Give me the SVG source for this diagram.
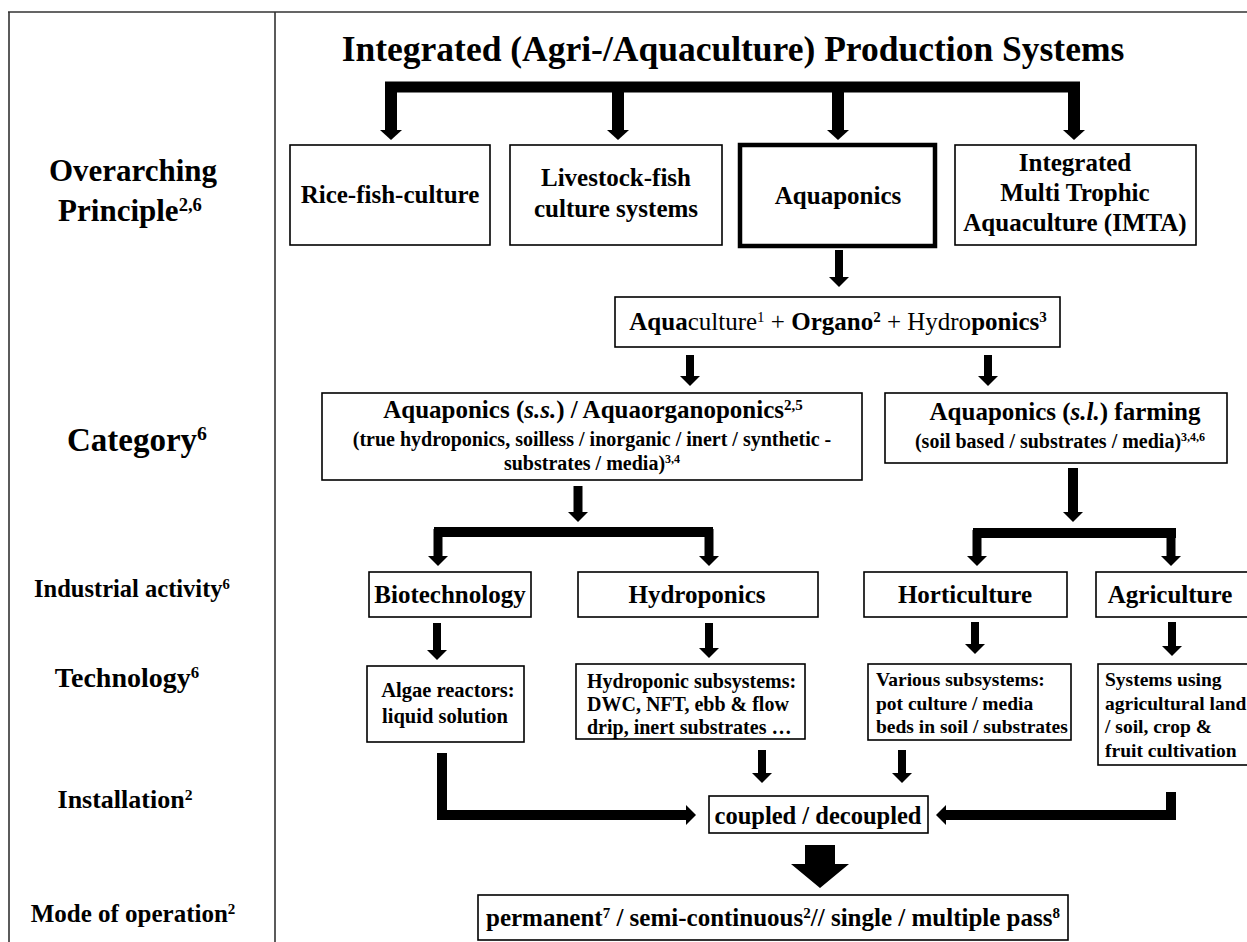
<svg xmlns="http://www.w3.org/2000/svg" width="1247" height="942" viewBox="0 0 1247 942">
<defs>
<style>
text{font-family:"Liberation Serif","Times New Roman",serif;fill:#000}
.b{font-weight:bold}
.m{text-anchor:middle}
.box{fill:#fff;stroke:#000;stroke-width:1.6}
.thick{fill:#fff;stroke:#000;stroke-width:4.5}
.frame{fill:none;stroke:#333;stroke-width:1.6}
.c{fill:none;stroke:#000;stroke-linecap:butt;stroke-linejoin:miter}
.s{font-size:60%}
</style>
<marker id="a20" markerUnits="userSpaceOnUse" markerWidth="10" markerHeight="20" viewBox="0 0 10 20" refX="0" refY="10" orient="auto"><path d="M0,0 L10,10 L0,20 Z" fill="#000"/></marker>
<marker id="a22" markerUnits="userSpaceOnUse" markerWidth="10" markerHeight="22" viewBox="0 0 10 22" refX="0" refY="11" orient="auto"><path d="M0,0 L10,11 L0,22 Z" fill="#000"/></marker>
</defs>
<rect width="1247" height="942" fill="#fff"/>
<g id="frame">
<path class="frame" d="M8,12 H1247 M9,12 V942 M275,12 V942"/>
</g>
<g id="row-labels" class="b">
<text x="133" y="181" class="m" font-size="31">Overarching</text>
<text x="130" y="221" class="m" font-size="31">Principle<tspan class="s" baseline-shift="super">2,6</tspan></text>
<text x="137" y="451" class="m" font-size="33">Category<tspan class="s" baseline-shift="super">6</tspan></text>
<text x="132" y="597" class="m" font-size="24.5">Industrial activity<tspan class="s" baseline-shift="super">6</tspan></text>
<text x="127" y="687" class="m" font-size="28">Technology<tspan class="s" baseline-shift="super">6</tspan></text>
<text x="125" y="808" class="m" font-size="26">Installation<tspan class="s" baseline-shift="super">2</tspan></text>
<text x="133" y="922" class="m" font-size="25">Mode of operation<tspan class="s" baseline-shift="super">2</tspan></text>
</g>
<g id="title">
<text x="733" y="61" class="m b" font-size="35.5">Integrated (Agri-/Aquaculture) Production Systems</text>
</g>
<g id="connectors">
<path class="c" stroke-width="11" d="M385,87 H1080"/>
<path class="c" stroke-width="12" d="M391,84 V130" marker-end="url(#a22)"/>
<path class="c" stroke-width="12" d="M618,84 V130" marker-end="url(#a22)"/>
<path class="c" stroke-width="12" d="M838,84 V130" marker-end="url(#a22)"/>
<path class="c" stroke-width="12" d="M1074,84 V130" marker-end="url(#a22)"/>
<path class="c" stroke-width="8" d="M839,250 V277" marker-end="url(#a20)"/>
<path class="c" stroke-width="8" d="M690,355 V376" marker-end="url(#a20)"/>
<path class="c" stroke-width="8" d="M988,355 V376" marker-end="url(#a20)"/>
<path class="c" stroke-width="9" d="M578,486 V512" marker-end="url(#a20)"/>
<path class="c" stroke-width="10" d="M1073,468 V512" marker-end="url(#a20)"/>
<path class="c" stroke-width="10" d="M434,532 H713"/>
<path class="c" stroke-width="9" d="M438,529 V556" marker-end="url(#a20)"/>
<path class="c" stroke-width="9" d="M709,529 V556" marker-end="url(#a20)"/>
<path class="c" stroke-width="10" d="M973,533 H1176"/>
<path class="c" stroke-width="9" d="M977,530 V556" marker-end="url(#a20)"/>
<path class="c" stroke-width="9" d="M1171,530 V556" marker-end="url(#a20)"/>
<path class="c" stroke-width="8" d="M437,623 V650" marker-end="url(#a20)"/>
<path class="c" stroke-width="8" d="M709,623 V648" marker-end="url(#a20)"/>
<path class="c" stroke-width="8" d="M975,622 V644" marker-end="url(#a20)"/>
<path class="c" stroke-width="8" d="M1172,622 V646" marker-end="url(#a20)"/>
<path class="c" stroke-width="8" d="M762,750 V773" marker-end="url(#a20)"/>
<path class="c" stroke-width="8" d="M902,750 V773" marker-end="url(#a20)"/>
<path class="c" stroke-width="10" d="M442,753 V815 H686" marker-end="url(#a20)"/>
<path class="c" stroke-width="10" d="M1171,792 V815 H946" marker-end="url(#a20)"/>
<path d="M805,845 H835 V864 H849 L820,888 L791,864 H805 Z" fill="#000"/>
</g>
<g id="rice-fish" class="b">
<rect class="box" x="290" y="145" width="200" height="100"/>
<text x="390" y="203" class="m" font-size="25">Rice-fish-culture</text>
</g>
<g id="livestock-fish" class="b">
<rect class="box" x="510" y="145" width="212" height="100"/>
<text x="616" y="186" class="m" font-size="25">Livestock-fish</text>
<text x="616" y="217" class="m" font-size="25">culture systems</text>
</g>
<g id="aquaponics" class="b">
<rect class="thick" x="740" y="145" width="195" height="101"/>
<text x="838" y="204" class="m" font-size="25">Aquaponics</text>
</g>
<g id="imta" class="b">
<rect class="box" x="955" y="145" width="241" height="100"/>
<text x="1075" y="171" class="m" font-size="25">Integrated</text>
<text x="1075" y="201" class="m" font-size="25">Multi Trophic</text>
<text x="1075" y="231" class="m" font-size="25">Aquaculture (IMTA)</text>
</g>
<g id="components">
<rect class="box" x="615" y="297" width="445" height="50"/>
<text x="838" y="330" class="m" font-size="25"><tspan class="b">Aqua</tspan>culture<tspan class="s" baseline-shift="super">1</tspan>  + <tspan class="b">Organo</tspan><tspan class="s b" baseline-shift="super">2</tspan> + Hydro<tspan class="b">ponics</tspan><tspan class="s b" baseline-shift="super">3</tspan></text>
</g>
<g id="aquaponics-ss" class="b">
<rect class="box" x="322" y="393" width="540" height="87"/>
<text x="593" y="418" class="m" font-size="25">Aquaponics (<tspan font-style="italic">s.s.</tspan>) / Aquaorganoponics<tspan class="s" baseline-shift="super">2,5</tspan></text>
<text x="592" y="446" class="m" font-size="20">(true hydroponics, soilless / inorganic / inert / synthetic -</text>
<text x="592" y="470" class="m" font-size="20">substrates / media)<tspan class="s" baseline-shift="super">3,4</tspan></text>
</g>
<g id="aquaponics-sl" class="b">
<rect class="box" x="885" y="393" width="342" height="70"/>
<text x="1065" y="420" class="m" font-size="25">Aquaponics (<tspan font-style="italic">s.l.</tspan>) farming</text>
<text x="1060" y="448" class="m" font-size="20">(soil based / substrates / media)<tspan class="s" baseline-shift="super">3,4,6</tspan></text>
</g>
<g id="biotechnology" class="b">
<rect class="box" x="369" y="572" width="162" height="45"/>
<text x="450" y="603" class="m" font-size="25">Biotechnology</text>
</g>
<g id="hydroponics" class="b">
<rect class="box" x="578" y="572" width="240" height="45"/>
<text x="697" y="603" class="m" font-size="25">Hydroponics</text>
</g>
<g id="horticulture" class="b">
<rect class="box" x="864" y="572" width="203" height="45"/>
<text x="965" y="603" class="m" font-size="25">Horticulture</text>
</g>
<g id="agriculture" class="b">
<rect class="box" x="1096" y="572" width="160" height="45"/>
<text x="1170" y="603" class="m" font-size="25">Agriculture</text>
</g>
<g id="algae" class="b">
<rect class="box" x="367" y="666" width="157" height="76"/>
<text x="448" y="697" class="m" font-size="20.5">Algae reactors:</text>
<text x="445" y="723" class="m" font-size="20.5">liquid solution</text>
</g>
<g id="hydro-subsystems" class="b" font-size="20">
<rect class="box" x="576" y="664" width="229" height="75"/>
<text x="587" y="688">Hydroponic subsystems:</text>
<text x="587" y="711">DWC, NFT, ebb &amp; flow</text>
<text x="587" y="734">drip, inert substrates …</text>
</g>
<g id="various-subsystems" class="b" font-size="19.5">
<rect class="box" x="868" y="664" width="203" height="76"/>
<text x="876" y="686">Various subsystems:</text>
<text x="876" y="710">pot culture / media</text>
<text x="876" y="733">beds in soil / substrates</text>
</g>
<g id="agri-systems" class="b" font-size="19.5">
<rect class="box" x="1098" y="664" width="160" height="101"/>
<text x="1105" y="686">Systems using</text>
<text x="1105" y="710">agricultural land</text>
<text x="1105" y="733">/ soil, crop &amp;</text>
<text x="1105" y="757">fruit  cultivation</text>
</g>
<g id="coupled" class="b">
<rect class="box" x="709" y="796" width="219" height="37"/>
<text x="818" y="824" class="m" font-size="24.5">coupled / decoupled</text>
</g>
<g id="mode" class="b">
<rect class="box" x="478" y="895" width="590" height="45"/>
<text x="773" y="926" class="m" font-size="25">permanent<tspan class="s" baseline-shift="super">7</tspan> / semi-continuous<tspan class="s" baseline-shift="super">2</tspan>// single / multiple pass<tspan class="s" baseline-shift="super">8</tspan></text>
</g>
</svg>
